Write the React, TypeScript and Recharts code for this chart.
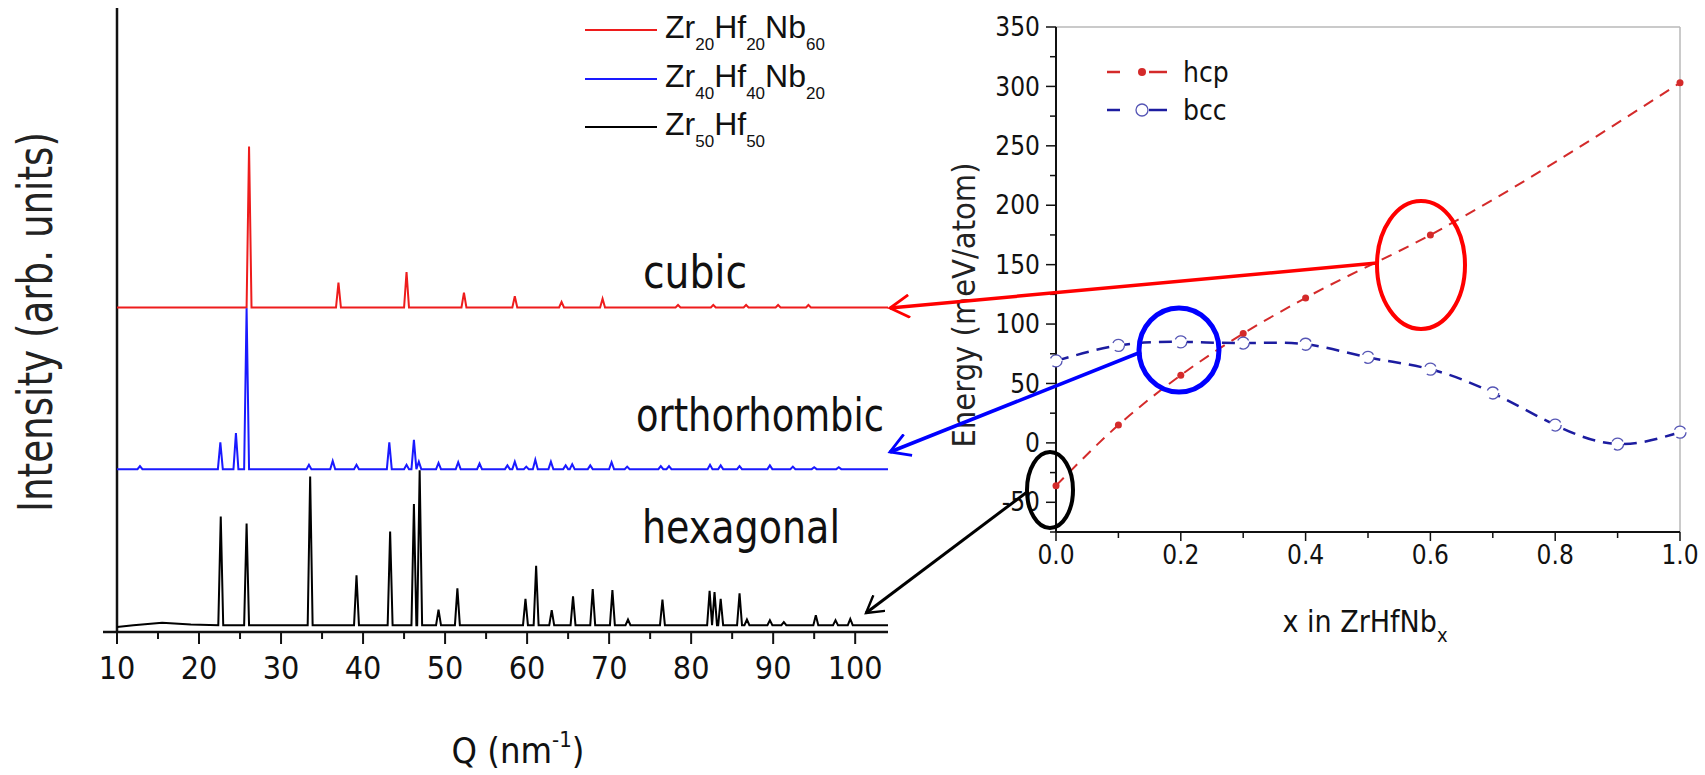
import React from "react"
import { LineChart, Line, XAxis, YAxis, Legend, ReferenceLine } from "recharts"

const COND = "'Liberation Sans Narrow', 'DejaVu Sans Condensed', 'Open Sans', sans-serif"
const WIDE = "'DejaVu Sans', Verdana, sans-serif"
const ARIAL = "'Liberation Sans', Arial, sans-serif"

// ---- left panel: diffraction patterns (Q in nm^-1, intensity in arb. units) ----
const Q_TICKS = [10, 15, 20, 25, 30, 35, 40, 45, 50, 55, 60, 65, 70, 75, 80, 85, 90, 95, 100]

const cubicBase = 52
const cubicPeaks: [number, number][] = [
    [26.1, 25.8], [37.0, 4.0], [45.3, 5.7], [52.3, 2.4], [58.5, 1.8], [64.2, 0.9], [69.2, 1.4],
    [78.4, 0.4], [82.7, 0.4], [86.7, 0.4], [90.6, 0.4], [94.3, 0.4],
]

const orthoBase = 26.1
const orthoPeaks: [number, number][] = [
    [12.8, 0.5], [22.6, 4.3], [24.5, 5.8], [25.8, 25.8], [33.4, 0.7], [36.3, 1.3], [39.2, 0.7],
    [43.2, 4.3], [45.3, 0.7], [46.2, 4.7], [46.8, 1.2], [49.2, 1.0], [51.6, 1.1], [54.2, 0.9],
    [57.6, 0.6], [58.5, 1.2], [59.9, 0.4], [61.0, 1.5], [62.9, 1.2], [64.7, 0.6], [65.5, 0.8],
    [67.7, 0.6], [70.3, 1.1], [72.2, 0.4], [76.3, 0.5], [77.3, 0.5], [82.3, 0.7], [83.6, 0.6],
    [85.9, 0.5], [89.6, 0.6], [92.4, 0.4], [95.0, 0.3], [98.0, 0.3],
]

const hexBase = 1.1
const hexHump: [number, number][] = [[10, -0.3], [12, 0], [15.5, 0.4], [19, 0.1]]
const hexPeaks: [number, number][] = [
    [22.65, 17.4], [25.8, 16.3], [33.55, 23.8], [39.2, 8.0], [43.3, 15.0], [46.2, 19.4], [46.9, 24.8],
    [49.2, 2.5], [51.5, 5.9], [59.8, 4.2], [61.1, 9.5], [63.0, 2.4], [65.6, 4.6], [68.0, 5.8],
    [70.4, 5.6], [72.3, 0.9], [76.5, 4.1], [82.25, 5.5], [82.85, 5.3], [83.6, 4.2], [85.9, 5.1],
    [86.8, 0.9], [89.6, 0.8], [91.3, 0.5], [95.2, 1.6], [97.6, 0.8], [99.4, 1.0],
]

// ---- right panel: formation energy vs Nb content ----
const X_TICKS = [0, 0.1, 0.2, 0.3, 0.4, 0.5, 0.6, 0.7, 0.8, 0.9, 1.0]
const E_TICKS = [-75, -50, -25, 0, 25, 50, 75, 100, 125, 150, 175, 200, 225, 250, 275, 300, 325, 350]

const hcpX = [0, 0.1, 0.2, 0.3, 0.4, 0.6, 1.0]
const hcpE = [-36, 15, 57, 92, 122, 175, 303]
const bccX = [0, 0.1, 0.2, 0.3, 0.4, 0.5, 0.6, 0.7, 0.8, 0.9, 1.0]
const bccE = [69, 82, 85, 84, 83, 72, 62, 42, 15, -1, 9]

const HW = 0.3 // half width of a drawn peak, in Q units
function spectrum(base: number, peaks: [number, number][], knots: [number, number][] = []) {
    const pts = knots.length ? knots.map(([q, d]) => ({ q, v: base + d })) : [{ q: 10, v: base }]
    pts.push({ q: 104, v: base })
    peaks.forEach(([q, h]) => pts.push({ q: q - HW, v: base }, { q, v: base + h }, { q: q + HW, v: base }))
    return pts.sort((a, b) => a.q - b.q)
}
const cubic = spectrum(cubicBase, cubicPeaks)
const ortho = spectrum(orthoBase, orthoPeaks)
const hex = spectrum(hexBase, hexPeaks, hexHump)
const hcp = hcpX.map((x, i) => ({ x, e: hcpE[i] }))
const bcc = bccX.map((x, i) => ({ x, e: bccE[i] }))

const QTick = (p: any) => {
    const v = p.payload.value, ay = p.y - 24, major = v % 10 === 0
    return (
        <g>
            <line x1={p.x} x2={p.x} y1={ay} y2={ay + (major ? 12 : 7)} stroke="#111" strokeWidth={2} />
            {major && <text x={p.x} y={ay + 24} dy="0.71em" textAnchor="middle" fontFamily={COND} fontSize={32} fill="#111">{v}</text>}
        </g>
    )
}
const XTick = (p: any) => {
    const v = p.payload.value, ay = p.y - 14, major = Math.round(v * 10) % 2 === 0
    return (
        <g>
            <line x1={p.x} x2={p.x} y1={ay} y2={ay + (major ? 9 : 6)} stroke="#111" strokeWidth={1.5} />
            {major && <text x={p.x} y={ay + 14} dy="0.71em" textAnchor="middle" fontFamily={COND} fontSize={26} fill="#111">{v.toFixed(1)}</text>}
        </g>
    )
}
const ETick = (p: any) => {
    const v = p.payload.value, ax = p.x + 16, major = v % 50 === 0
    return (
        <g>
            <line x1={ax} x2={ax - (major ? 10 : 6)} y1={p.y} y2={p.y} stroke="#111" strokeWidth={1.5} />
            {major && <text x={ax - 16} y={p.y} dy="0.35em" textAnchor="end" fontFamily={COND} fontSize={26} fill="#111">{v}</text>}
        </g>
    )
}

const sub = { fontSize: 17, position: "relative" as const, top: 12 }
const XrdLegend = () => {
    const rows: [string, React.ReactNode][] = [
        ["#ee1c1c", <>Zr<span style={sub}>20</span>Hf<span style={sub}>20</span>Nb<span style={sub}>60</span></>],
        ["#1a1aff", <>Zr<span style={sub}>40</span>Hf<span style={sub}>40</span>Nb<span style={sub}>20</span></>],
        ["#000", <>Zr<span style={sub}>50</span>Hf<span style={sub}>50</span></>],
    ]
    return (
        <div style={{ fontFamily: ARIAL, fontSize: 32, color: "#111" }}>
            {rows.map(([c, t], i) => (
                <div key={i} style={{ display: "flex", alignItems: "center", height: 48.5 }}>
                    <div style={{ width: 72, height: 2, background: c, marginRight: 8 }} />
                    <div style={{ lineHeight: "32px", whiteSpace: "nowrap" }}>{t}</div>
                </div>
            ))}
        </div>
    )
}
const EnergyLegend = () => (
    <div style={{ fontFamily: COND, fontSize: 28, color: "#111" }}>
        {[["#d42a2a", "hcp", true], ["#1c1ca0", "bcc", false]].map(([c, t, filled]: any) => (
            <div key={t} style={{ display: "flex", alignItems: "center", height: 38 }}>
                <svg width={62} height={20} style={{ marginRight: 14 }}>
                    <line x1={0} x2={13} y1={10} y2={10} stroke={c} strokeWidth={2.5} />
                    <line x1={42} x2={60} y1={10} y2={10} stroke={c} strokeWidth={2.5} />
                    {filled ? <circle cx={35} cy={10} r={4} fill={c} />
                        : <circle cx={35} cy={10} r={6} fill="#fff" stroke="#5555b5" strokeWidth={1.3} />}
                </svg>
                <span>{t}</span>
            </div>
        ))}
    </div>
)

export default function App() {
    return (
        <div style={{ position: "absolute", left: 0, top: 0, width: 1705, height: 775, background: "#fff" }}>
            <div style={{ position: "absolute", left: 0, top: 0 }}>
                <LineChart width={900} height={775} margin={{ top: 8, right: 12, bottom: 83, left: 117 }}>
                    <XAxis dataKey="q" type="number" domain={[10, 104]} ticks={Q_TICKS} allowDataOverflow
                        height={60} tickSize={12} tickMargin={12} tickLine={false} tick={<QTick />}
                        axisLine={{ stroke: "#111", strokeWidth: 2.5 }} />
                    <YAxis type="number" domain={[0, 100]} hide />
                    <ReferenceLine x={10} stroke="#111" strokeWidth={2.5} />
                    <Legend layout="horizontal" verticalAlign="middle" align="center" content={<XrdLegend />}
                        wrapperStyle={{ left: 585, top: 6, width: 270 }} />
                    <Line data={cubic} dataKey="v" type="linear" stroke="#ee1c1c" strokeWidth={2} dot={false} isAnimationActive={false} />
                    <Line data={ortho} dataKey="v" type="linear" stroke="#1a1aff" strokeWidth={2} dot={false} isAnimationActive={false} />
                    <Line data={hex} dataKey="v" type="linear" stroke="#000" strokeWidth={2} dot={false} isAnimationActive={false} />
                </LineChart>
            </div>
            <div style={{ position: "absolute", left: 940, top: 0 }}>
                <LineChart width={765} height={775} margin={{ top: 27, right: 25, bottom: 203, left: 46 }}>
                    <XAxis dataKey="x" type="number" domain={[0, 1]} ticks={X_TICKS} height={40}
                        tickSize={9} tickMargin={5} tickLine={false} tick={<XTick />}
                        axisLine={{ stroke: "#111", strokeWidth: 2 }} />
                    <YAxis type="number" domain={[-75, 350]} ticks={E_TICKS} width={70} allowDataOverflow
                        tickSize={10} tickMargin={6} tickLine={false} tick={<ETick />}
                        axisLine={{ stroke: "#111", strokeWidth: 2 }} />
                    <ReferenceLine y={350} stroke="#b8b8b8" strokeWidth={1.5} />
                    <ReferenceLine x={1} stroke="#b8b8b8" strokeWidth={1.5} />
                    <Legend layout="horizontal" verticalAlign="middle" align="center" content={<EnergyLegend />}
                        wrapperStyle={{ left: 167, top: 53, width: 140 }} />
                    <Line data={hcp} dataKey="e" type="monotone" stroke="#d42a2a" strokeWidth={2} strokeDasharray="11 8"
                        dot={{ r: 3.5, fill: "#d42a2a", stroke: "none" }} isAnimationActive={false} />
                    <Line data={bcc} dataKey="e" type="natural" stroke="#1c1ca0" strokeWidth={2.5} strokeDasharray="13 8"
                        dot={{ r: 6, fill: "#fff", stroke: "#5555b5", strokeWidth: 1.3 }} isAnimationActive={false} />
                </LineChart>
            </div>
            <svg width={1705} height={775} style={{ position: "absolute", left: 0, top: 0, pointerEvents: "none" }}>
                <defs>
                    {["#ff0000", "#0000ff", "#000"].map((c, i) => (
                        <marker key={i} id={`ah${i}`} viewBox="0 0 14 14" refX={12} refY={7} markerWidth={7} markerHeight={7} orient="auto">
                            <path d="M1,0.5 L12,7 L1,13.5" fill="none" stroke={c} strokeWidth={1.6} />
                        </marker>
                    ))}
                </defs>
                <line x1={103} x2={117} y1={632} y2={632} stroke="#111" strokeWidth={2.5} />
                <text transform="translate(52,322) rotate(-90)" textAnchor="middle" fontFamily={WIDE} fontSize={48}
                    textLength={380} lengthAdjust="spacingAndGlyphs" fill="#222">Intensity (arb. units)</text>
                <text x={518} y={763} textAnchor="middle" fontFamily={COND} fontSize={36} fill="#111">Q (nm<tspan fontSize={22} dy={-16}>-1</tspan><tspan dy={16}>)</tspan></text>
                <text x={643} y={288} fontFamily={COND} fontSize={46} textLength={104} lengthAdjust="spacingAndGlyphs" fill="#111">cubic</text>
                <text x={636} y={431} fontFamily={COND} fontSize={46} textLength={248} lengthAdjust="spacingAndGlyphs" fill="#111">orthorhombic</text>
                <text x={642} y={543} fontFamily={COND} fontSize={46} textLength={198} lengthAdjust="spacingAndGlyphs" fill="#111">hexagonal</text>
                <text transform="translate(975,305) rotate(-90)" textAnchor="middle" fontFamily={WIDE} fontSize={32}
                    textLength={285} lengthAdjust="spacingAndGlyphs" fill="#222">Energy (meV/atom)</text>
                <text x={1365} y={632} textAnchor="middle" fontFamily={COND} fontSize={30} fill="#111">x in ZrHfNb<tspan fontSize={20} dy={10}>x</tspan></text>

                <ellipse cx={1421} cy={265} rx={44} ry={64} fill="none" stroke="#ff0000" strokeWidth={4} />
                <line x1={1377} y1={263} x2={890} y2={308} stroke="#ff0000" strokeWidth={3.5} markerEnd="url(#ah0)" />
                <ellipse cx={1179} cy={350} rx={40} ry={42} fill="none" stroke="#0000ff" strokeWidth={5} />
                <line x1={1141} y1={352} x2={890} y2={452} stroke="#0000ff" strokeWidth={3.5} markerEnd="url(#ah1)" />
                <ellipse cx={1050} cy={490} rx={23} ry={38} fill="none" stroke="#000" strokeWidth={4} />
                <line x1={1027} y1={492} x2={866} y2={613} stroke="#000" strokeWidth={3} markerEnd="url(#ah2)" />
            </svg>
        </div>
    )
}
